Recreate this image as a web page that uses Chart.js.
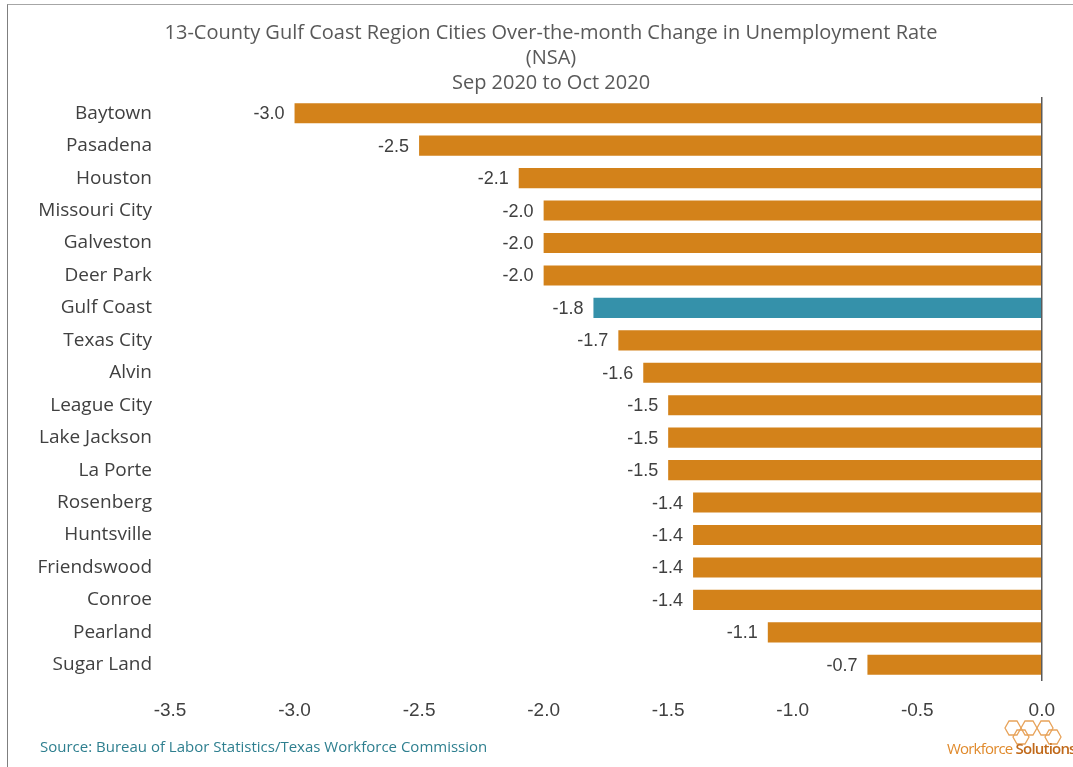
<!DOCTYPE html>
<html>
<head>
<meta charset="utf-8">
<script src="https://cdn.jsdelivr.net/npm/chart.js@4"></script>
<style>
  body { margin: 0; background: #fff; font-family: "Open Sans", Lato, sans-serif; }
  #wrap { position: relative; width: 1073px; height: 767px; overflow: hidden; }
  #frame { position: absolute; left: 7px; top: 4px; right: -2px; bottom: -2px;
           border-left: 1px solid #7f7f7f; border-top: 1px solid #a6a6a6; }
  canvas { position: absolute; left: 0; top: 0; }
  #source { position: absolute; left: 40px; top: 736px; font-size: 15px; color: #2e7f8f; }
  #logo { position: absolute; left: 947px; top: 738px; font-size: 15px; color: #e08a2c; white-space: nowrap; letter-spacing: -0.8px; }
  #logo b { color: #c0691a; font-weight: 600; }
  #hex { position: absolute; left: 995px; top: 719px; }
</style>
</head>
<body>
<div id="wrap">
  <div id="frame"></div>
  <canvas id="chart" width="1073" height="767"></canvas>
  <div id="source">Source: Bureau of Labor Statistics/Texas Workforce Commission</div>
  <svg id="hex" width="75" height="28" viewBox="0 0 75 28">
    <g fill="none" stroke="#e8a35a" stroke-width="1.3">
      <polygon points="14,2 22,2 26,9 22,16 14,16 10,9"/>
      <polygon points="30,2 38,2 42,9 38,16 30,16 26,9"/>
      <polygon points="22,11 30,11 34,18 30,25 22,25 18,18"/>
      <polygon points="46,2 54,2 58,9 54,16 46,16 42,9"/>
      <polygon points="54,11 62,11 66,18 62,25 54,25 50,18"/>
    </g>
  </svg>
  <div id="logo">Workforce <b>Solutions</b></div>
</div>
<script>
// chart data
const cities = ['Baytown', 'Pasadena', 'Houston', 'Missouri City', 'Galveston', 'Deer Park',
  'Gulf Coast', 'Texas City', 'Alvin', 'League City', 'Lake Jackson', 'La Porte',
  'Rosenberg', 'Huntsville', 'Friendswood', 'Conroe', 'Pearland', 'Sugar Land'];
const changes = [-3.0, -2.5, -2.1, -2.0, -2.0, -2.0, -1.8, -1.7, -1.6, -1.5, -1.5, -1.5,
  -1.4, -1.4, -1.4, -1.4, -1.1, -0.7];
const xTicks = [-3.5, -3.0, -2.5, -2.0, -1.5, -1.0, -0.5, 0.0];
const titleLines = ['13-County Gulf Coast Region Cities Over-the-month Change in Unemployment Rate', '(NSA)', 'Sep 2020 to Oct 2020'];

const orange = '#d3821a';
const teal = '#3591aa';
const textGray = '#404040';
const fontFam = '"Open Sans", Lato, sans-serif';
const numFam = '"Liberation Sans", Arial, sans-serif';

// value labels to the left of each bar end
const valueLabels = {
  id: 'valueLabels',
  afterDatasetsDraw(chart) {
    const ctx = chart.ctx;
    const meta = chart.getDatasetMeta(0);
    ctx.save();
    ctx.font = '18px ' + numFam;
    ctx.fillStyle = textGray;
    ctx.textAlign = 'right';
    ctx.textBaseline = 'middle';
    meta.data.forEach((bar, i) => {
      ctx.fillText(changes[i].toFixed(1), bar.x - 10, bar.y + 1);
    });
    ctx.restore();
  }
};

// title is centred a bit right of the canvas middle, so draw it by hand
const titleText = {
  id: 'titleText',
  afterDraw(chart) {
    const ctx = chart.ctx;
    ctx.save();
    ctx.font = '20px ' + fontFam;
    ctx.fillStyle = '#595959';
    ctx.textAlign = 'center';
    ctx.textBaseline = 'middle';
    titleLines.forEach((line, i) => ctx.fillText(line, 551, 33 + i * 25));
    ctx.restore();
  }
};

new Chart(document.getElementById('chart'), {
  type: 'bar',
  data: {
    labels: cities,
    datasets: [{
      data: changes,
      backgroundColor: cities.map(c => c === 'Gulf Coast' ? teal : orange),
      barPercentage: 0.62,
      categoryPercentage: 1.0
    }]
  },
  options: {
    indexAxis: 'y',
    responsive: false,
    animation: false,
    layout: { padding: { left: 0, right: 30, top: 97, bottom: 0 } },
    plugins: {
      legend: { display: false },
      tooltip: { enabled: false },
      title: { display: false }
    },
    scales: {
      x: {
        min: -3.5,
        max: 0,
        afterBuildTicks(scale) { scale.ticks = xTicks.map(v => ({ value: v })); },
        afterFit(scale) { scale.height = 86; },
        ticks: {
          color: textGray,
          font: { family: numFam, size: 19 },
          padding: 18,
          callback: v => Number(v).toFixed(1)
        },
        grid: {
          drawTicks: false,
          color: ctx => ctx.tick && ctx.tick.value === 0 ? '#5a5a5a' : 'rgba(0,0,0,0)',
          lineWidth: 1.5
        },
        border: { display: false }
      },
      y: {
        afterFit(scale) { scale.width = 170; },
        ticks: {
          color: textGray,
          font: { family: fontFam, size: 19 },
          padding: 18
        },
        grid: { display: false, drawTicks: false },
        border: { display: false }
      }
    }
  },
  plugins: [valueLabels, titleText]
});
</script>
</body>
</html>
